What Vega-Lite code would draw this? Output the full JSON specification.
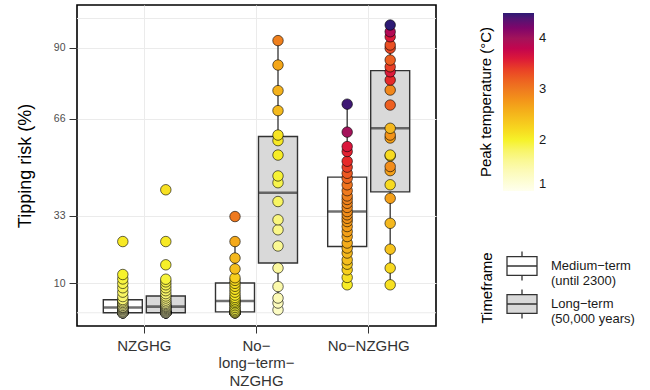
{
  "$schema": "https://vega.github.io/schema/vega-lite/v6.json",
  "width": 359,
  "height": 321,
  "autosize": {"type": "none"},
  "padding": {"left": 77, "top": 5, "right": 214, "bottom": 64},
  "background": "white",
  "config": {
    "font": "Liberation Sans",
    "view": {"stroke": "black", "strokeWidth": 1.6},
    "axis": {"gridColor": "#ebebeb", "gridWidth": 1, "domain": false, "tickColor": "#333333", "labelFont": "Liberation Sans", "titleFont": "Liberation Sans"},
    "legend": {"labelFont": "Liberation Sans", "titleFont": "Liberation Sans"}
  },
  "datasets": {
    "grid": [{"y": 0}, {"y": 100}],
    "boxes": [
      {"scenario": "NZGHG", "timeframe": "Medium-term", "lower": 0, "q1": 0, "median": 1.8, "q3": 4.4, "upper": 11},
      {"scenario": "NZGHG", "timeframe": "Long-term", "lower": 0, "q1": 0, "median": 2.1, "q3": 5.7, "upper": 11.4},
      {"scenario": "No-long-term-NZGHG", "timeframe": "Medium-term", "lower": 0, "q1": 0.3, "median": 4.0, "q3": 10.1, "upper": 24.2},
      {"scenario": "No-long-term-NZGHG", "timeframe": "Long-term", "lower": 1, "q1": 16.9, "median": 40.8, "q3": 59.9, "upper": 92.5},
      {"scenario": "No-NZGHG", "timeframe": "Medium-term", "lower": 9.5, "q1": 22.5, "median": 34.4, "q3": 46.1, "upper": 70.9},
      {"scenario": "No-NZGHG", "timeframe": "Long-term", "lower": 9.5, "q1": 41.1, "median": 62.7, "q3": 82.3, "upper": 97.8}
    ],
    "points": [
      {"scenario": "NZGHG", "timeframe": "Medium-term", "risk": 0, "peak": 1.15},
      {"scenario": "NZGHG", "timeframe": "Medium-term", "risk": 0, "peak": 1.18},
      {"scenario": "NZGHG", "timeframe": "Medium-term", "risk": 0, "peak": 1.22},
      {"scenario": "NZGHG", "timeframe": "Medium-term", "risk": 0, "peak": 1.25},
      {"scenario": "NZGHG", "timeframe": "Medium-term", "risk": 0, "peak": 1.28},
      {"scenario": "NZGHG", "timeframe": "Medium-term", "risk": 0, "peak": 1.3},
      {"scenario": "NZGHG", "timeframe": "Medium-term", "risk": 0.3, "peak": 1.35},
      {"scenario": "NZGHG", "timeframe": "Medium-term", "risk": 0.6, "peak": 1.4},
      {"scenario": "NZGHG", "timeframe": "Medium-term", "risk": 1, "peak": 1.42},
      {"scenario": "NZGHG", "timeframe": "Medium-term", "risk": 1.3, "peak": 1.45},
      {"scenario": "NZGHG", "timeframe": "Medium-term", "risk": 1.6, "peak": 1.5},
      {"scenario": "NZGHG", "timeframe": "Medium-term", "risk": 1.8, "peak": 1.52},
      {"scenario": "NZGHG", "timeframe": "Medium-term", "risk": 2, "peak": 1.55},
      {"scenario": "NZGHG", "timeframe": "Medium-term", "risk": 2.5, "peak": 1.6},
      {"scenario": "NZGHG", "timeframe": "Medium-term", "risk": 3, "peak": 1.65},
      {"scenario": "NZGHG", "timeframe": "Medium-term", "risk": 3.5, "peak": 1.68},
      {"scenario": "NZGHG", "timeframe": "Medium-term", "risk": 4, "peak": 1.7},
      {"scenario": "NZGHG", "timeframe": "Medium-term", "risk": 4.5, "peak": 1.75},
      {"scenario": "NZGHG", "timeframe": "Medium-term", "risk": 5.5, "peak": 1.78},
      {"scenario": "NZGHG", "timeframe": "Medium-term", "risk": 7, "peak": 1.82},
      {"scenario": "NZGHG", "timeframe": "Medium-term", "risk": 8.5, "peak": 1.86},
      {"scenario": "NZGHG", "timeframe": "Medium-term", "risk": 10, "peak": 1.9},
      {"scenario": "NZGHG", "timeframe": "Medium-term", "risk": 11.5, "peak": 1.95},
      {"scenario": "NZGHG", "timeframe": "Medium-term", "risk": 13, "peak": 2.0},
      {"scenario": "NZGHG", "timeframe": "Medium-term", "risk": 24.2, "peak": 2.08},
      {"scenario": "NZGHG", "timeframe": "Long-term", "risk": 0, "peak": 1.12},
      {"scenario": "NZGHG", "timeframe": "Long-term", "risk": 0, "peak": 1.15},
      {"scenario": "NZGHG", "timeframe": "Long-term", "risk": 0, "peak": 1.18},
      {"scenario": "NZGHG", "timeframe": "Long-term", "risk": 0, "peak": 1.2},
      {"scenario": "NZGHG", "timeframe": "Long-term", "risk": 0, "peak": 1.23},
      {"scenario": "NZGHG", "timeframe": "Long-term", "risk": 0, "peak": 1.26},
      {"scenario": "NZGHG", "timeframe": "Long-term", "risk": 0, "peak": 1.3},
      {"scenario": "NZGHG", "timeframe": "Long-term", "risk": 0.3, "peak": 1.33},
      {"scenario": "NZGHG", "timeframe": "Long-term", "risk": 0.6, "peak": 1.36},
      {"scenario": "NZGHG", "timeframe": "Long-term", "risk": 0.9, "peak": 1.4},
      {"scenario": "NZGHG", "timeframe": "Long-term", "risk": 1.2, "peak": 1.42},
      {"scenario": "NZGHG", "timeframe": "Long-term", "risk": 1.5, "peak": 1.45},
      {"scenario": "NZGHG", "timeframe": "Long-term", "risk": 1.8, "peak": 1.48},
      {"scenario": "NZGHG", "timeframe": "Long-term", "risk": 2.1, "peak": 1.5},
      {"scenario": "NZGHG", "timeframe": "Long-term", "risk": 2.4, "peak": 1.53},
      {"scenario": "NZGHG", "timeframe": "Long-term", "risk": 2.8, "peak": 1.56},
      {"scenario": "NZGHG", "timeframe": "Long-term", "risk": 3.2, "peak": 1.6},
      {"scenario": "NZGHG", "timeframe": "Long-term", "risk": 3.7, "peak": 1.63},
      {"scenario": "NZGHG", "timeframe": "Long-term", "risk": 4.3, "peak": 1.66},
      {"scenario": "NZGHG", "timeframe": "Long-term", "risk": 5, "peak": 1.7},
      {"scenario": "NZGHG", "timeframe": "Long-term", "risk": 5.7, "peak": 1.73},
      {"scenario": "NZGHG", "timeframe": "Long-term", "risk": 6.5, "peak": 1.76},
      {"scenario": "NZGHG", "timeframe": "Long-term", "risk": 7.5, "peak": 1.8},
      {"scenario": "NZGHG", "timeframe": "Long-term", "risk": 8.5, "peak": 1.84},
      {"scenario": "NZGHG", "timeframe": "Long-term", "risk": 9.5, "peak": 1.88},
      {"scenario": "NZGHG", "timeframe": "Long-term", "risk": 10.5, "peak": 1.92},
      {"scenario": "NZGHG", "timeframe": "Long-term", "risk": 11.4, "peak": 1.96},
      {"scenario": "NZGHG", "timeframe": "Long-term", "risk": 16.3, "peak": 2.02},
      {"scenario": "NZGHG", "timeframe": "Long-term", "risk": 24.2, "peak": 2.08},
      {"scenario": "NZGHG", "timeframe": "Long-term", "risk": 41.8, "peak": 2.15},
      {"scenario": "No-long-term-NZGHG", "timeframe": "Medium-term", "risk": 0, "peak": 1.7},
      {"scenario": "No-long-term-NZGHG", "timeframe": "Medium-term", "risk": 0, "peak": 1.75},
      {"scenario": "No-long-term-NZGHG", "timeframe": "Medium-term", "risk": 0, "peak": 1.8},
      {"scenario": "No-long-term-NZGHG", "timeframe": "Medium-term", "risk": 0, "peak": 1.82},
      {"scenario": "No-long-term-NZGHG", "timeframe": "Medium-term", "risk": 0, "peak": 1.85},
      {"scenario": "No-long-term-NZGHG", "timeframe": "Medium-term", "risk": 0.3, "peak": 1.87},
      {"scenario": "No-long-term-NZGHG", "timeframe": "Medium-term", "risk": 0.7, "peak": 1.9},
      {"scenario": "No-long-term-NZGHG", "timeframe": "Medium-term", "risk": 1.2, "peak": 1.92},
      {"scenario": "No-long-term-NZGHG", "timeframe": "Medium-term", "risk": 1.8, "peak": 1.94},
      {"scenario": "No-long-term-NZGHG", "timeframe": "Medium-term", "risk": 2.4, "peak": 1.96},
      {"scenario": "No-long-term-NZGHG", "timeframe": "Medium-term", "risk": 3, "peak": 1.98},
      {"scenario": "No-long-term-NZGHG", "timeframe": "Medium-term", "risk": 3.5, "peak": 2.0},
      {"scenario": "No-long-term-NZGHG", "timeframe": "Medium-term", "risk": 4, "peak": 2.02},
      {"scenario": "No-long-term-NZGHG", "timeframe": "Medium-term", "risk": 4.6, "peak": 2.04},
      {"scenario": "No-long-term-NZGHG", "timeframe": "Medium-term", "risk": 5.2, "peak": 2.06},
      {"scenario": "No-long-term-NZGHG", "timeframe": "Medium-term", "risk": 6, "peak": 2.08},
      {"scenario": "No-long-term-NZGHG", "timeframe": "Medium-term", "risk": 7, "peak": 2.1},
      {"scenario": "No-long-term-NZGHG", "timeframe": "Medium-term", "risk": 8, "peak": 2.12},
      {"scenario": "No-long-term-NZGHG", "timeframe": "Medium-term", "risk": 9, "peak": 2.15},
      {"scenario": "No-long-term-NZGHG", "timeframe": "Medium-term", "risk": 10, "peak": 2.18},
      {"scenario": "No-long-term-NZGHG", "timeframe": "Medium-term", "risk": 11, "peak": 2.22},
      {"scenario": "No-long-term-NZGHG", "timeframe": "Medium-term", "risk": 11.9, "peak": 2.3},
      {"scenario": "No-long-term-NZGHG", "timeframe": "Medium-term", "risk": 14.9, "peak": 2.45},
      {"scenario": "No-long-term-NZGHG", "timeframe": "Medium-term", "risk": 18.6, "peak": 2.5},
      {"scenario": "No-long-term-NZGHG", "timeframe": "Medium-term", "risk": 24.2, "peak": 2.62},
      {"scenario": "No-long-term-NZGHG", "timeframe": "Medium-term", "risk": 32.7, "peak": 3.0},
      {"scenario": "No-long-term-NZGHG", "timeframe": "Long-term", "risk": 1, "peak": 1.3},
      {"scenario": "No-long-term-NZGHG", "timeframe": "Long-term", "risk": 3.3, "peak": 1.35},
      {"scenario": "No-long-term-NZGHG", "timeframe": "Long-term", "risk": 5, "peak": 1.4},
      {"scenario": "No-long-term-NZGHG", "timeframe": "Long-term", "risk": 8.9, "peak": 1.48},
      {"scenario": "No-long-term-NZGHG", "timeframe": "Long-term", "risk": 15.2, "peak": 1.55},
      {"scenario": "No-long-term-NZGHG", "timeframe": "Long-term", "risk": 22.7, "peak": 1.6},
      {"scenario": "No-long-term-NZGHG", "timeframe": "Long-term", "risk": 28.2, "peak": 1.65},
      {"scenario": "No-long-term-NZGHG", "timeframe": "Long-term", "risk": 31.6, "peak": 1.7},
      {"scenario": "No-long-term-NZGHG", "timeframe": "Long-term", "risk": 37.8, "peak": 1.82},
      {"scenario": "No-long-term-NZGHG", "timeframe": "Long-term", "risk": 44.2, "peak": 1.9},
      {"scenario": "No-long-term-NZGHG", "timeframe": "Long-term", "risk": 46.5, "peak": 1.97},
      {"scenario": "No-long-term-NZGHG", "timeframe": "Long-term", "risk": 53.6, "peak": 2.05},
      {"scenario": "No-long-term-NZGHG", "timeframe": "Long-term", "risk": 58.5, "peak": 2.08},
      {"scenario": "No-long-term-NZGHG", "timeframe": "Long-term", "risk": 60.4, "peak": 2.12},
      {"scenario": "No-long-term-NZGHG", "timeframe": "Long-term", "risk": 68.7, "peak": 2.48},
      {"scenario": "No-long-term-NZGHG", "timeframe": "Long-term", "risk": 75.5, "peak": 2.55},
      {"scenario": "No-long-term-NZGHG", "timeframe": "Long-term", "risk": 84.2, "peak": 2.65},
      {"scenario": "No-long-term-NZGHG", "timeframe": "Long-term", "risk": 92.5, "peak": 2.95},
      {"scenario": "No-NZGHG", "timeframe": "Medium-term", "risk": 9.5, "peak": 2.05},
      {"scenario": "No-NZGHG", "timeframe": "Medium-term", "risk": 12, "peak": 2.15},
      {"scenario": "No-NZGHG", "timeframe": "Medium-term", "risk": 14.6, "peak": 2.3},
      {"scenario": "No-NZGHG", "timeframe": "Medium-term", "risk": 16.5, "peak": 2.35},
      {"scenario": "No-NZGHG", "timeframe": "Medium-term", "risk": 18, "peak": 2.45},
      {"scenario": "No-NZGHG", "timeframe": "Medium-term", "risk": 20.3, "peak": 2.5},
      {"scenario": "No-NZGHG", "timeframe": "Medium-term", "risk": 22, "peak": 2.55},
      {"scenario": "No-NZGHG", "timeframe": "Medium-term", "risk": 23.7, "peak": 2.6},
      {"scenario": "No-NZGHG", "timeframe": "Medium-term", "risk": 25.9, "peak": 2.65},
      {"scenario": "No-NZGHG", "timeframe": "Medium-term", "risk": 27.6, "peak": 2.7},
      {"scenario": "No-NZGHG", "timeframe": "Medium-term", "risk": 29.3, "peak": 2.72},
      {"scenario": "No-NZGHG", "timeframe": "Medium-term", "risk": 31, "peak": 2.75},
      {"scenario": "No-NZGHG", "timeframe": "Medium-term", "risk": 32.1, "peak": 2.8},
      {"scenario": "No-NZGHG", "timeframe": "Medium-term", "risk": 33.3, "peak": 2.82},
      {"scenario": "No-NZGHG", "timeframe": "Medium-term", "risk": 34.4, "peak": 2.85},
      {"scenario": "No-NZGHG", "timeframe": "Medium-term", "risk": 35.8, "peak": 2.88},
      {"scenario": "No-NZGHG", "timeframe": "Medium-term", "risk": 37.2, "peak": 2.9},
      {"scenario": "No-NZGHG", "timeframe": "Medium-term", "risk": 38.5, "peak": 2.93},
      {"scenario": "No-NZGHG", "timeframe": "Medium-term", "risk": 39.7, "peak": 2.95},
      {"scenario": "No-NZGHG", "timeframe": "Medium-term", "risk": 41.5, "peak": 3.0},
      {"scenario": "No-NZGHG", "timeframe": "Medium-term", "risk": 43.5, "peak": 3.05},
      {"scenario": "No-NZGHG", "timeframe": "Medium-term", "risk": 45.7, "peak": 3.15},
      {"scenario": "No-NZGHG", "timeframe": "Medium-term", "risk": 47.4, "peak": 3.25},
      {"scenario": "No-NZGHG", "timeframe": "Medium-term", "risk": 49.5, "peak": 3.4},
      {"scenario": "No-NZGHG", "timeframe": "Medium-term", "risk": 51.5, "peak": 3.5},
      {"scenario": "No-NZGHG", "timeframe": "Medium-term", "risk": 54.8, "peak": 3.55},
      {"scenario": "No-NZGHG", "timeframe": "Medium-term", "risk": 56.5, "peak": 3.62},
      {"scenario": "No-NZGHG", "timeframe": "Medium-term", "risk": 61.4, "peak": 4.0},
      {"scenario": "No-NZGHG", "timeframe": "Medium-term", "risk": 70.9, "peak": 4.45},
      {"scenario": "No-NZGHG", "timeframe": "Long-term", "risk": 9.5, "peak": 2.15},
      {"scenario": "No-NZGHG", "timeframe": "Long-term", "risk": 15.2, "peak": 2.22},
      {"scenario": "No-NZGHG", "timeframe": "Long-term", "risk": 21.6, "peak": 2.4},
      {"scenario": "No-NZGHG", "timeframe": "Long-term", "risk": 30.4, "peak": 2.5},
      {"scenario": "No-NZGHG", "timeframe": "Long-term", "risk": 38.9, "peak": 2.7},
      {"scenario": "No-NZGHG", "timeframe": "Long-term", "risk": 43.5, "peak": 2.2},
      {"scenario": "No-NZGHG", "timeframe": "Long-term", "risk": 48.3, "peak": 2.7},
      {"scenario": "No-NZGHG", "timeframe": "Long-term", "risk": 49.7, "peak": 2.85},
      {"scenario": "No-NZGHG", "timeframe": "Long-term", "risk": 53.3, "peak": 2.25},
      {"scenario": "No-NZGHG", "timeframe": "Long-term", "risk": 53.6, "peak": 2.2},
      {"scenario": "No-NZGHG", "timeframe": "Long-term", "risk": 59.4, "peak": 2.7},
      {"scenario": "No-NZGHG", "timeframe": "Long-term", "risk": 60.4, "peak": 2.8},
      {"scenario": "No-NZGHG", "timeframe": "Long-term", "risk": 62.7, "peak": 2.5},
      {"scenario": "No-NZGHG", "timeframe": "Long-term", "risk": 70.6, "peak": 3.2},
      {"scenario": "No-NZGHG", "timeframe": "Long-term", "risk": 75.7, "peak": 2.9},
      {"scenario": "No-NZGHG", "timeframe": "Long-term", "risk": 79.1, "peak": 3.5},
      {"scenario": "No-NZGHG", "timeframe": "Long-term", "risk": 81.9, "peak": 3.6},
      {"scenario": "No-NZGHG", "timeframe": "Long-term", "risk": 83.6, "peak": 3.4},
      {"scenario": "No-NZGHG", "timeframe": "Long-term", "risk": 85.9, "peak": 3.2},
      {"scenario": "No-NZGHG", "timeframe": "Long-term", "risk": 89.9, "peak": 3.35},
      {"scenario": "No-NZGHG", "timeframe": "Long-term", "risk": 91, "peak": 3.3},
      {"scenario": "No-NZGHG", "timeframe": "Long-term", "risk": 93.8, "peak": 3.6},
      {"scenario": "No-NZGHG", "timeframe": "Long-term", "risk": 95.5, "peak": 3.9},
      {"scenario": "No-NZGHG", "timeframe": "Long-term", "risk": 97.8, "peak": 4.5}
    ]
  },
  "layer": [
    {
      "data": {"name": "grid"},
      "mark": {"type": "rule", "color": "#ebebeb", "strokeWidth": 1},
      "encoding": {
        "y": {
          "field": "y", "type": "quantitative",
          "scale": {"domain": [-4.5, 104.6], "nice": false, "zero": false},
          "axis": {
            "values": [10, 33, 66, 90], "title": "Tipping risk (%)",
            "titleFontSize": 18, "titleFontWeight": "normal", "titleColor": "black", "titlePadding": 19,
            "labelFontSize": 10.5, "labelColor": "#4d4d4d", "labelPadding": 4, "tickSize": 8, "grid": true
          }
        }
      }
    },
    {
      "data": {"name": "boxes"},
      "mark": {"type": "rule", "color": "#333333", "strokeWidth": 1.3},
      "encoding": {
        "x": {
          "field": "scenario", "type": "nominal",
          "scale": {"domain": ["NZGHG", "No-long-term-NZGHG", "No-NZGHG"], "paddingInner": 0, "paddingOuter": 0.1},
          "axis": {
            "title": null, "labelAngle": 0, "labelFontSize": 15, "labelColor": "#333333", "labelLineHeight": 17.5,
            "labelPadding": 5, "tickSize": 7, "grid": true,
            "labelExpr": "datum.value == 'No-long-term-NZGHG' ? ['No\u2212', 'long\u2212term\u2212', 'NZGHG'] : replace(datum.value, '-', '\u2212')"
          }
        },
        "xOffset": {"field": "timeframe", "type": "nominal", "scale": {"domain": ["Medium-term", "Long-term"], "paddingInner": 0.093, "paddingOuter": 0.351}},
        "y": {"field": "lower", "type": "quantitative"},
        "y2": {"field": "q1"}
      }
    },
    {
      "data": {"name": "boxes"},
      "mark": {"type": "rule", "color": "#333333", "strokeWidth": 1.3},
      "encoding": {
        "x": {"field": "scenario", "type": "nominal"},
        "xOffset": {"field": "timeframe", "type": "nominal"},
        "y": {"field": "q3", "type": "quantitative"},
        "y2": {"field": "upper"}
      }
    },
    {
      "data": {"name": "boxes"},
      "mark": {"type": "bar", "stroke": "#333333", "strokeWidth": 1.4},
      "encoding": {
        "x": {"field": "scenario", "type": "nominal"},
        "xOffset": {"field": "timeframe", "type": "nominal"},
        "y": {"field": "q1", "type": "quantitative"},
        "y2": {"field": "q3"},
        "fill": {
          "field": "timeframe", "type": "nominal",
          "scale": {"domain": ["Medium-term", "Long-term"], "range": ["#ffffff", "#d9d9d9"]},
          "legend": {
            "title": "Timeframe", "orient": "none", "legendX": 403, "legendY": 245,
            "titleOrient": "left", "titleAnchor": "middle", "titleFontSize": 15, "titleFontWeight": "normal", "titleColor": "black", "titlePadding": 10,
            "symbolType": "M-1,-0.63H1V0.63H-1Z M-1,0H1 M0,-0.63V-0.97 M0,0.63V0.97",
            "symbolSize": 900, "symbolStrokeColor": "#333333", "symbolStrokeWidth": 1.3, "symbolOpacity": 1,
            "labelFontSize": 13, "labelColor": "#1a1a1a", "labelLineHeight": 14, "labelOffset": 13, "rowPadding": -5,
            "labelExpr": "datum.value == 'Medium-term' ? ['Medium\u2212term', '(until 2300)'] : ['Long\u2212term', '(50,000 years)']",
            "encoding": {"title": {"angle": {"value": -90}, "align": {"value": "center"}, "baseline": {"value": "top"}}}
          }
        }
      }
    },
    {
      "data": {"name": "boxes"},
      "mark": {"type": "tick", "color": "#333333", "thickness": 2.6, "size": 39, "orient": "horizontal"},
      "encoding": {
        "x": {"field": "scenario", "type": "nominal"},
        "xOffset": {"field": "timeframe", "type": "nominal"},
        "y": {"field": "median", "type": "quantitative"}
      }
    },
    {
      "data": {"name": "points"},
      "mark": {"type": "point", "filled": true, "size": 110, "stroke": "black", "strokeWidth": 0.6, "opacity": 1},
      "encoding": {
        "x": {"field": "scenario", "type": "nominal"},
        "xOffset": {"field": "timeframe", "type": "nominal"},
        "y": {"field": "risk", "type": "quantitative"},
        "color": {
          "field": "peak", "type": "quantitative",
          "scale": {"type": "linear", "domain": [1, 1.5, 2, 2.5, 3, 3.5, 4, 4.5], "range": ["#ffffee", "#fbf9a8", "#f6f22a", "#f4b81e", "#ef7a1f", "#e62a2a", "#a3135a", "#2d1a74"]},
          "legend": {
            "type": "gradient", "title": "Peak temperature (°C)", "orient": "none", "direction": "vertical",
            "legendX": 402, "legendY": 8, "values": [1, 2, 3, 4],
            "titleOrient": "left", "titleAnchor": "middle", "titleFontSize": 15, "titleFontWeight": "normal", "titleColor": "black", "titlePadding": 8,
            "gradientLength": 178, "gradientThickness": 31, "gradientStrokeWidth": 0,
            "labelFontSize": 13, "labelColor": "#1a1a1a", "labelOffset": 5
          }
        }
      }
    }
  ]
}
